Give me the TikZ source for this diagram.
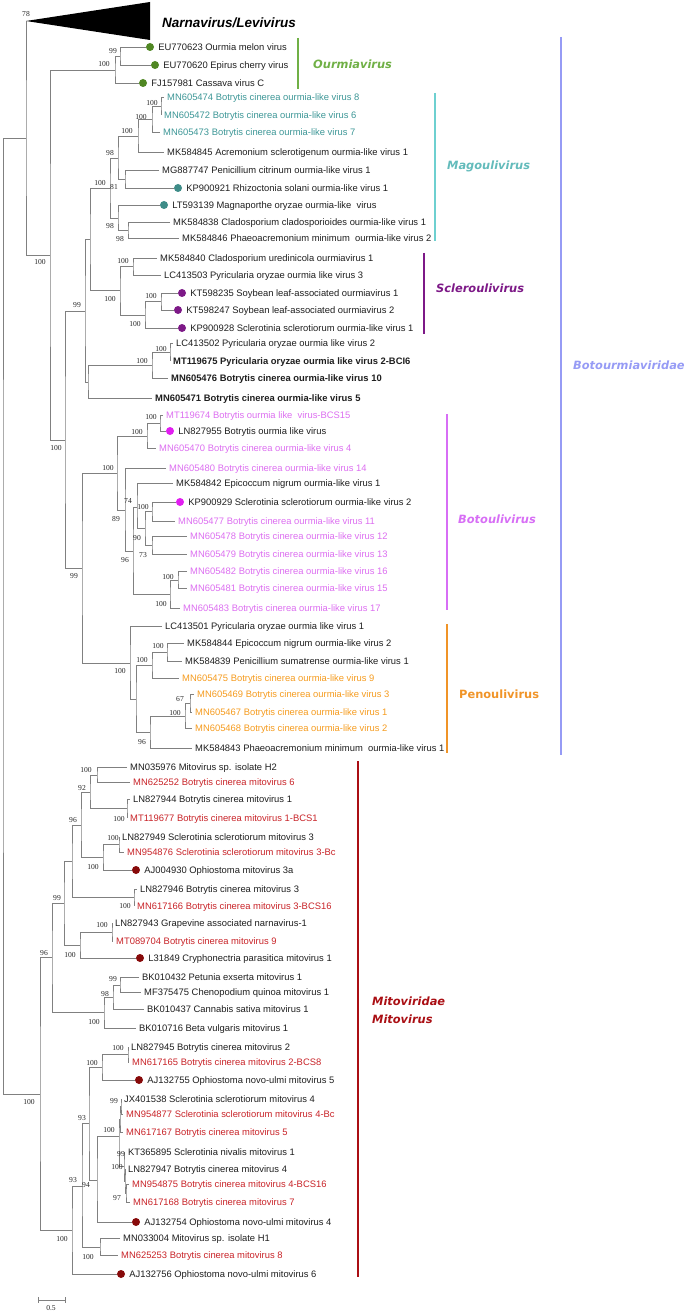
\documentclass[tikz,border=0pt]{standalone}
\usepackage{fontspec}
\setmainfont{Liberation Sans}
\newfontfamily\bootserif{Liberation Serif}
\newfontfamily\cladesans{DejaVu Sans}
\usepackage{xcolor}
\usepackage{tikz}
\usetikzlibrary{positioning}

\newcommand\leaffont{\fontsize{9.4}{11}\selectfont}
\newcommand\bootfont{\bootserif\fontsize{7.6}{9}\selectfont}
\newcommand\cladefont{\cladesans\bfseries\itshape\fontsize{11.4}{13}\selectfont}
\newcommand\narnafont{\bfseries\itshape\fontsize{13.5}{16}\selectfont}

\definecolor{branchgray}{RGB}{128,128,128}
\definecolor{leafgray}{RGB}{30,30,30}
\definecolor{bootgray}{RGB}{40,40,40}
\definecolor{ourmiadot}{RGB}{80,135,35}
\definecolor{ourmiabar}{RGB}{112,176,70}
\definecolor{magoleaf}{RGB}{60,150,150}
\definecolor{magodot}{RGB}{62,140,136}
\definecolor{magobar}{RGB}{110,208,208}
\definecolor{sclero}{RGB}{125,25,135}
\definecolor{botoleaf}{RGB}{220,110,240}
\definecolor{botodot}{RGB}{225,30,240}
\definecolor{botobar}{RGB}{215,110,245}
\definecolor{penoleaf}{RGB}{245,155,30}
\definecolor{penobar}{RGB}{240,148,40}
\definecolor{botourm}{RGB}{150,155,245}
\definecolor{mitoleaf}{RGB}{200,35,40}
\definecolor{mitodot}{RGB}{135,10,10}
\definecolor{mitobar}{RGB}{170,15,20}

\begin{document}
\begin{tikzpicture}[
        x=1pt, y=-1pt,
        branch/.style={draw=branchgray, line width=0.9pt},
        leaf/.style={anchor=west, inner xsep=3pt, inner ysep=1pt, text height=6.8pt, text depth=0pt, font=\leaffont, text=leafgray},
        tipdot/.style={circle, inner sep=0pt, minimum size=8pt},
        boot/.style={inner sep=0pt, text height=5.2pt, text depth=0pt, font=\bootfont, text=bootgray},
        cladebar/.style={line width=2.4pt},
        cladelabel/.style={anchor=west, inner sep=0pt, text height=8pt, text depth=0pt, font=\cladefont}
        ]

        \useasboundingbox (0,0) rectangle (687,1313);

        % collapsed Narnavirus/Levivirus clade
        \coordinate (narnatip) at (26,21);
        \coordinate (narnatop) at (150,2);
        \coordinate (narnabot) at (150,40);
        \fill (narnatip) -- (narnatop) -- (narnabot) -- cycle;
        \node[anchor=west, inner sep=0pt, font=\narnafont] (narna) at (162,23) {Narnavirus/Levivirus};

        % Ourmiavirus
        \node[tipdot, fill=ourmiadot] (eu770623dot) at (150,47) {};
        \node[leaf, right=1pt of eu770623dot] (eu770623) {EU770623 Ourmia melon virus};
        \node[tipdot, fill=ourmiadot] (eu770620dot) at (155,65) {};
        \node[leaf, right=1pt of eu770620dot] (eu770620) {EU770620 Epirus cherry virus};
        \node[tipdot, fill=ourmiadot] (fj157981dot) at (143,83) {};
        \node[leaf, right=1pt of fj157981dot] (fj157981) {FJ157981 Cassava virus C};

        % Magoulivirus
        \node[leaf, text=magoleaf] (mn605474) at (164,97) {MN605474 Botrytis cinerea ourmia-like virus 8};
        \node[leaf, text=magoleaf] (mn605472) at (161,115) {MN605472 Botrytis cinerea ourmia-like virus 6};
        \node[leaf, text=magoleaf] (mn605473) at (160,132) {MN605473 Botrytis cinerea ourmia-like virus 7};
        \node[leaf] (mk584845) at (164,152) {MK584845 Acremonium sclerotigenum ourmia-like virus 1};
        \node[leaf] (mg887747) at (159,170) {MG887747 Penicillium citrinum ourmia-like virus 1};
        \node[tipdot, fill=magodot] (kp900921dot) at (178,188) {};
        \node[leaf, right=1pt of kp900921dot] (kp900921) {KP900921 Rhizoctonia solani ourmia-like virus 1};
        \node[tipdot, fill=magodot] (lt593139dot) at (164,205) {};
        \node[leaf, right=1pt of lt593139dot] (lt593139) {LT593139 Magnaporthe oryzae ourmia-like\ \ virus};
        \node[leaf] (mk584838) at (170,222) {MK584838 Cladosporium cladosporioides ourmia-like virus 1};
        \node[leaf] (mk584846) at (179,238) {MK584846 Phaeoacremonium minimum\ \ ourmia-like virus 2};

        % Scleroulivirus
        \node[leaf] (mk584840) at (157,258) {MK584840 Cladosporium uredinicola ourmiavirus 1};
        \node[leaf] (lc413503) at (161,275) {LC413503 Pyricularia oryzae ourmia like virus 3};
        \node[tipdot, fill=sclero] (kt598235dot) at (182,293) {};
        \node[leaf, right=1pt of kt598235dot] (kt598235) {KT598235 Soybean leaf-associated ourmiavirus 1};
        \node[tipdot, fill=sclero] (kt598247dot) at (178,310) {};
        \node[leaf, right=1pt of kt598247dot] (kt598247) {KT598247 Soybean leaf-associated ourmiavirus 2};
        \node[tipdot, fill=sclero] (kp900928dot) at (182,328) {};
        \node[leaf, right=1pt of kp900928dot] (kp900928) {KP900928 Sclerotinia sclerotiorum ourmia-like virus 1};

        % Pyricularia / Botrytis ourmia-like group
        \node[leaf] (lc413502) at (173,343) {LC413502 Pyricularia oryzae ourmia like virus 2};
        \node[leaf, font=\leaffont\bfseries] (mt119675) at (170,361) {MT119675 Pyricularia oryzae ourmia like virus 2-BCI6};
        \node[leaf, font=\leaffont\bfseries] (mn605476) at (168,378) {MN605476 Botrytis cinerea ourmia-like virus 10};
        \node[leaf, font=\leaffont\bfseries] (mn605471) at (152,398) {MN605471 Botrytis cinerea ourmia-like virus 5};

        % Botoulivirus
        \node[leaf, text=botoleaf] (mt119674) at (163,415) {MT119674 Botrytis ourmia like\ \ virus-BCS15};
        \node[tipdot, fill=botodot] (ln827955dot) at (170,431) {};
        \node[leaf, right=1pt of ln827955dot] (ln827955) {LN827955 Botrytis ourmia like virus};
        \node[leaf, text=botoleaf] (mn605470) at (156,448) {MN605470 Botrytis cinerea ourmia-like virus 4};
        \node[leaf, text=botoleaf] (mn605480) at (166,468) {MN605480 Botrytis cinerea ourmia-like virus 14};
        \node[leaf] (mk584842) at (173,483) {MK584842 Epicoccum nigrum ourmia-like virus 1};
        \node[tipdot, fill=botodot] (kp900929dot) at (180,502) {};
        \node[leaf, right=1pt of kp900929dot] (kp900929) {KP900929 Sclerotinia sclerotiorum ourmia-like virus 2};
        \node[leaf, text=botoleaf] (mn605477) at (175,521) {MN605477 Botrytis cinerea ourmia-like virus 11};
        \node[leaf, text=botoleaf] (mn605478) at (187,536) {MN605478 Botrytis cinerea ourmia-like virus 12};
        \node[leaf, text=botoleaf] (mn605479) at (187,554) {MN605479 Botrytis cinerea ourmia-like virus 13};
        \node[leaf, text=botoleaf] (mn605482) at (187,571) {MN605482 Botrytis cinerea ourmia-like virus 16};
        \node[leaf, text=botoleaf] (mn605481) at (187,588) {MN605481 Botrytis cinerea ourmia-like virus 15};
        \node[leaf, text=botoleaf] (mn605483) at (180,608) {MN605483 Botrytis cinerea ourmia-like virus 17};

        % Penoulivirus
        \node[leaf] (lc413501) at (162,626) {LC413501 Pyricularia oryzae ourmia like virus 1};
        \node[leaf] (mk584844) at (184,643) {MK584844 Epicoccum nigrum ourmia-like virus 2};
        \node[leaf] (mk584839) at (182,661) {MK584839 Penicillium sumatrense ourmia-like virus 1};
        \node[leaf, text=penoleaf] (mn605475) at (179,678) {MN605475 Botrytis cinerea ourmia-like virus 9};
        \node[leaf, text=penoleaf] (mn605469) at (194,694) {MN605469 Botrytis cinerea ourmia-like virus 3};
        \node[leaf, text=penoleaf] (mn605467) at (192,712) {MN605467 Botrytis cinerea ourmia-like virus 1};
        \node[leaf, text=penoleaf] (mn605468) at (192,728) {MN605468 Botrytis cinerea ourmia-like virus 2};
        \node[leaf] (mk584843) at (192,748) {MK584843 Phaeoacremonium minimum\ \ ourmia-like virus 1};

        % Mitovirus
        \node[leaf] (mn035976) at (127,767) {MN035976 Mitovirus sp. isolate H2};
        \node[leaf, text=mitoleaf] (mn625252) at (130,782) {MN625252 Botrytis cinerea mitovirus 6};
        \node[leaf] (ln827944) at (130,799) {LN827944 Botrytis cinerea mitovirus 1};
        \node[leaf, text=mitoleaf] (mt119677) at (127,818) {MT119677 Botrytis cinerea mitovirus 1-BCS1};
        \node[leaf] (ln827949) at (119,837) {LN827949 Sclerotinia sclerotiorum mitovirus 3};
        \node[leaf, text=mitoleaf] (mn954876) at (124,852) {MN954876 Sclerotinia sclerotiorum mitovirus 3-Bc};
        \node[tipdot, fill=mitodot] (aj004930dot) at (136,870) {};
        \node[leaf, right=1pt of aj004930dot] (aj004930) {AJ004930 Ophiostoma mitovirus 3a};
        \node[leaf] (ln827946) at (137,889) {LN827946 Botrytis cinerea mitovirus 3};
        \node[leaf, text=mitoleaf] (mn617166) at (134,906) {MN617166 Botrytis cinerea mitovirus 3-BCS16};
        \node[leaf] (ln827943) at (112,923) {LN827943 Grapevine associated narnavirus-1};
        \node[leaf, text=mitoleaf] (mt089704) at (113,941) {MT089704 Botrytis cinerea mitovirus 9};
        \node[tipdot, fill=mitodot] (l31849dot) at (140,958) {};
        \node[leaf, right=1pt of l31849dot] (l31849) {L31849 Cryphonectria parasitica mitovirus 1};
        \node[leaf] (bk010432) at (139,977) {BK010432 Petunia exserta mitovirus 1};
        \node[leaf] (mf375475) at (141,992) {MF375475 Chenopodium quinoa mitovirus 1};
        \node[leaf] (bk010437) at (144,1009) {BK010437 Cannabis sativa mitovirus 1};
        \node[leaf] (bk010716) at (136,1028) {BK010716 Beta vulgaris mitovirus 1};
        \node[leaf] (ln827945) at (128,1047) {LN827945 Botrytis cinerea mitovirus 2};
        \node[leaf, text=mitoleaf] (mn617165) at (129,1062) {MN617165 Botrytis cinerea mitovirus 2-BCS8};
        \node[tipdot, fill=mitodot] (aj132755dot) at (139,1080) {};
        \node[leaf, right=1pt of aj132755dot] (aj132755) {AJ132755 Ophiostoma novo-ulmi mitovirus 5};
        \node[leaf] (jx401538) at (121,1099) {JX401538 Sclerotinia sclerotiorum mitovirus 4};
        \node[leaf, text=mitoleaf] (mn954877) at (123,1114) {MN954877 Sclerotinia sclerotiorum mitovirus 4-Bc};
        \node[leaf, text=mitoleaf] (mn617167) at (123,1132) {MN617167 Botrytis cinerea mitovirus 5};
        \node[leaf] (kt365895) at (125,1152) {KT365895 Sclerotinia nivalis mitovirus 1};
        \node[leaf] (ln827947) at (125,1169) {LN827947 Botrytis cinerea mitovirus 4};
        \node[leaf, text=mitoleaf] (mn954875) at (129,1184) {MN954875 Botrytis cinerea mitovirus 4-BCS16};
        \node[leaf, text=mitoleaf] (mn617168) at (130,1202) {MN617168 Botrytis cinerea mitovirus 7};
        \node[tipdot, fill=mitodot] (aj132754dot) at (136,1222) {};
        \node[leaf, right=1pt of aj132754dot] (aj132754) {AJ132754 Ophiostoma novo-ulmi mitovirus 4};
        \node[leaf] (mn033004) at (120,1238) {MN033004 Mitovirus sp. isolate H1};
        \node[leaf, text=mitoleaf] (mn625253) at (118,1255) {MN625253 Botrytis cinerea mitovirus 8};
        \node[tipdot, fill=mitodot] (aj132756dot) at (121,1274) {};
        \node[leaf, right=1pt of aj132756dot] (aj132756) {AJ132756 Ophiostoma novo-ulmi mitovirus 6};

        % internal nodes
        \coordinate (root) at (3,616);
        \coordinate (rootup) at (26,138);
        \coordinate (botourm) at (50,255);
        \coordinate (ourmia) at (115,70);
        \coordinate (ourmiasub) at (120,56);
        \coordinate (botcore) at (65,440);
        \coordinate (upper) at (85,311);
        \coordinate (magoscl) at (90,239);
        \coordinate (mago) at (110,188);
        \coordinate (magod) at (118,158);
        \coordinate (magoc) at (138,136);
        \coordinate (magob) at (152,119);
        \coordinate (magoa) at (161,106);
        \coordinate (magoe) at (125,179);
        \coordinate (magog) at (118,218);
        \coordinate (magoh) at (128,230);
        \coordinate (sclero) at (120,290);
        \coordinate (scleroa) at (133,266);
        \coordinate (sclerob) at (161,301);
        \coordinate (scleroc) at (145,315);
        \coordinate (pyric) at (88,382);
        \coordinate (pyricb) at (152,365);
        \coordinate (pyrica) at (170,352);
        \coordinate (lower) at (82,568);
        \coordinate (botoul) at (117,473);
        \coordinate (botoa) at (160,423);
        \coordinate (botob) at (147,436);
        \coordinate (botoc) at (125,510);
        \coordinate (botod) at (133,551);
        \coordinate (botoe) at (137,507);
        \coordinate (botof) at (145,528);
        \coordinate (botog) at (152,511);
        \coordinate (botoh) at (152,545);
        \coordinate (botoi) at (170,594);
        \coordinate (botoj) at (178,580);
        \coordinate (penoul) at (130,663);
        \coordinate (penof) at (136,699);
        \coordinate (penob) at (152,665);
        \coordinate (penoa) at (167,652);
        \coordinate (penoe) at (150,732);
        \coordinate (penod) at (185,716);
        \coordinate (penoc) at (190,703);
        \coordinate (mito) at (40,1094);
        \coordinate (mitoa) at (97,775);
        \coordinate (mitob) at (127,808);
        \coordinate (mitoc) at (90,792);
        \coordinate (mitod) at (119,844);
        \coordinate (mitoe) at (103,857);
        \coordinate (mitof) at (81,825);
        \coordinate (mitog) at (134,897);
        \coordinate (mitoh) at (72,861);
        \coordinate (mitoi) at (112,932);
        \coordinate (mitoj) at (80,945);
        \coordinate (mitok) at (64,903);
        \coordinate (mitol) at (120,985);
        \coordinate (mitom) at (113,997);
        \coordinate (miton) at (104,1012);
        \coordinate (mitoo) at (52,957);
        \coordinate (mitop) at (128,1054);
        \coordinate (mitoq) at (102,1067);
        \coordinate (mitor) at (121,1106);
        \coordinate (mitos) at (120,1119);
        \coordinate (mitot) at (124,1166);
        \coordinate (mitou) at (125,1181);
        \coordinate (mitov) at (126,1193);
        \coordinate (mitow) at (119,1136);
        \coordinate (mitox) at (97,1180);
        \coordinate (mitoy) at (89,1123);
        \coordinate (mitoz) at (100,1247);
        \coordinate (mitoaa) at (82,1186);
        \coordinate (mitobb) at (72,1230);

        % branches
        \draw[branch] (rootup) -| (root) |- (mito);
        \draw[branch] (narnatip) -| (rootup) |- (botourm);
        \draw[branch] (ourmia) -| (botourm) |- (botcore);
        \draw[branch] (eu770623dot.west) -| (ourmiasub) |- (eu770620dot.west);
        \draw[branch] (ourmiasub) -| (ourmia) |- (fj157981dot.west);
        \draw[branch] (upper) -| (botcore) |- (lower);
        \draw[branch] (magoscl) -| (upper) |- (pyric);
        \draw[branch] (mago) -| (magoscl) |- (sclero);
        \draw[branch] (magod) -| (mago) |- (magog);
        \draw[branch] (magoc) -| (magod) |- (magoe);
        \draw[branch] (magob) -| (magoc) |- (mk584845.west);
        \draw[branch] (magoa) -| (magob) |- (mn605473.west);
        \draw[branch] (mn605474.west) -| (magoa) |- (mn605472.west);
        \draw[branch] (mg887747.west) -| (magoe) |- (kp900921dot.west);
        \draw[branch] (lt593139dot.west) -| (magog) |- (magoh);
        \draw[branch] (mk584838.west) -| (magoh) |- (mk584846.west);
        \draw[branch] (scleroa) -| (sclero) |- (scleroc);
        \draw[branch] (mk584840.west) -| (scleroa) |- (lc413503.west);
        \draw[branch] (kt598235dot.west) -| (sclerob) |- (kt598247dot.west);
        \draw[branch] (sclerob) -| (scleroc) |- (kp900928dot.west);
        \draw[branch] (pyricb) -| (pyric) |- (mn605471.west);
        \draw[branch] (pyrica) -| (pyricb) |- (mn605476.west);
        \draw[branch] (lc413502.west) -| (pyrica) |- (mt119675.west);
        \draw[branch] (botoul) -| (lower) |- (penoul);
        \draw[branch] (botob) -| (botoul) |- (botoc);
        \draw[branch] (botoa) -| (botob) |- (mn605470.west);
        \draw[branch] (mt119674.west) -| (botoa) |- (ln827955dot.west);
        \draw[branch] (mn605480.west) -| (botoc) |- (botod);
        \draw[branch] (botoe) -| (botod) |- (botoi);
        \draw[branch] (mk584842.west) -| (botoe) |- (botof);
        \draw[branch] (botog) -| (botof) |- (botoh);
        \draw[branch] (kp900929dot.west) -| (botog) |- (mn605477.west);
        \draw[branch] (mn605478.west) -| (botoh) |- (mn605479.west);
        \draw[branch] (botoj) -| (botoi) |- (mn605483.west);
        \draw[branch] (mn605482.west) -| (botoj) |- (mn605481.west);
        \draw[branch] (lc413501.west) -| (penoul) |- (penof);
        \draw[branch] (penob) -| (penof) |- (penoe);
        \draw[branch] (penoa) -| (penob) |- (mn605475.west);
        \draw[branch] (mk584844.west) -| (penoa) |- (mk584839.west);
        \draw[branch] (penod) -| (penoe) |- (mk584843.west);
        \draw[branch] (penoc) -| (penod) |- (mn605468.west);
        \draw[branch] (mn605469.west) -| (penoc) |- (mn605467.west);
        \draw[branch] (mitoo) -| (mito) |- (mitobb);
        \draw[branch] (mitok) -| (mitoo) |- (miton);
        \draw[branch] (mitoh) -| (mitok) |- (mitoj);
        \draw[branch] (mitof) -| (mitoh) |- (mitog);
        \draw[branch] (mitoc) -| (mitof) |- (mitoe);
        \draw[branch] (mitoa) -| (mitoc) |- (mitob);
        \draw[branch] (mn035976.west) -| (mitoa) |- (mn625252.west);
        \draw[branch] (ln827944.west) -| (mitob) |- (mt119677.west);
        \draw[branch] (mitod) -| (mitoe) |- (aj004930dot.west);
        \draw[branch] (ln827949.west) -| (mitod) |- (mn954876.west);
        \draw[branch] (ln827946.west) -| (mitog) |- (mn617166.west);
        \draw[branch] (mitoi) -| (mitoj) |- (l31849dot.west);
        \draw[branch] (ln827943.west) -| (mitoi) |- (mt089704.west);
        \draw[branch] (mitom) -| (miton) |- (bk010716.west);
        \draw[branch] (mitol) -| (mitom) |- (bk010437.west);
        \draw[branch] (bk010432.west) -| (mitol) |- (mf375475.west);
        \draw[branch] (mitoaa) -| (mitobb) |- (aj132756dot.west);
        \draw[branch] (mitoy) -| (mitoaa) |- (mitoz);
        \draw[branch] (mn033004.west) -| (mitoz) |- (mn625253.west);
        \draw[branch] (mitoq) -| (mitoy) |- (mitox);
        \draw[branch] (mitop) -| (mitoq) |- (aj132755dot.west);
        \draw[branch] (ln827945.west) -| (mitop) |- (mn617165.west);
        \draw[branch] (mitow) -| (mitox) |- (aj132754dot.west);
        \draw[branch] (mitos) -| (mitow) |- (mitot);
        \draw[branch] (mitor) -| (mitos) |- (mn617167.west);
        \draw[branch] (jx401538.west) -| (mitor) |- (mn954877.west);
        \draw[branch] (kt365895.west) -| (mitot) |- (mitou);
        \draw[branch] (ln827947.west) -| (mitou) |- (mitov);
        \draw[branch] (mn954875.west) -| (mitov) |- (mn617168.west);

        % bootstrap values
        \node[boot] (bs01) at (26,14) {78};
        \node[boot] (bs02) at (113,51) {99};
        \node[boot] (bs03) at (104,64) {100};
        \node[boot] (bs04) at (152,103) {100};
        \node[boot] (bs05) at (141,117) {100};
        \node[boot] (bs06) at (127,131) {100};
        \node[boot] (bs07) at (110,153) {98};
        \node[boot] (bs08) at (100,183) {100};
        \node[boot] (bs09) at (114,187) {81};
        \node[boot] (bs10) at (110,226) {98};
        \node[boot] (bs11) at (120,239) {98};
        \node[boot] (bs12) at (40,262) {100};
        \node[boot] (bs13) at (123,261) {100};
        \node[boot] (bs14) at (77,305) {99};
        \node[boot] (bs15) at (110,299) {100};
        \node[boot] (bs16) at (151,296) {100};
        \node[boot] (bs17) at (135,324) {100};
        \node[boot] (bs18) at (161,349) {100};
        \node[boot] (bs19) at (142,361) {100};
        \node[boot] (bs20) at (151,417) {100};
        \node[boot] (bs21) at (137,432) {100};
        \node[boot] (bs22) at (56,448) {100};
        \node[boot] (bs23) at (108,468) {100};
        \node[boot] (bs24) at (128,501) {74};
        \node[boot] (bs25) at (143,507) {100};
        \node[boot] (bs26) at (116,519) {89};
        \node[boot] (bs27) at (137,538) {90};
        \node[boot] (bs28) at (143,555) {73};
        \node[boot] (bs29) at (125,560) {96};
        \node[boot] (bs30) at (168,577) {100};
        \node[boot] (bs31) at (74,576) {99};
        \node[boot] (bs32) at (161,604) {100};
        \node[boot] (bs33) at (158,646) {100};
        \node[boot] (bs34) at (142,660) {100};
        \node[boot] (bs35) at (120,671) {100};
        \node[boot] (bs36) at (180,699) {67};
        \node[boot] (bs37) at (175,713) {100};
        \node[boot] (bs38) at (142,742) {96};
        \node[boot] (bs39) at (86,770) {100};
        \node[boot] (bs40) at (82,788) {92};
        \node[boot] (bs41) at (119,819) {100};
        \node[boot] (bs42) at (73,820) {96};
        \node[boot] (bs43) at (113,838) {100};
        \node[boot] (bs44) at (93,867) {100};
        \node[boot] (bs45) at (57,898) {99};
        \node[boot] (bs46) at (125,906) {100};
        \node[boot] (bs47) at (102,925) {100};
        \node[boot] (bs48) at (44,953) {96};
        \node[boot] (bs49) at (70,955) {100};
        \node[boot] (bs50) at (113,979) {99};
        \node[boot] (bs51) at (105,994) {98};
        \node[boot] (bs52) at (94,1022) {100};
        \node[boot] (bs53) at (118,1048) {100};
        \node[boot] (bs54) at (92,1063) {100};
        \node[boot] (bs55) at (29,1102) {100};
        \node[boot] (bs56) at (114,1101) {99};
        \node[boot] (bs57) at (82,1118) {93};
        \node[boot] (bs58) at (109,1130) {100};
        \node[boot] (bs59) at (121,1154) {99};
        \node[boot] (bs60) at (117,1167) {100};
        \node[boot] (bs61) at (73,1180) {93};
        \node[boot] (bs62) at (86,1185) {94};
        \node[boot] (bs63) at (117,1198) {97};
        \node[boot] (bs64) at (62,1239) {100};
        \node[boot] (bs65) at (88,1257) {100};

        % clade bars and names
        \coordinate (ourmiabartop) at (298,38);
        \coordinate (ourmiabarbot) at (298,89);
        \coordinate (magobartop) at (435,93);
        \coordinate (magobarbot) at (435,241);
        \coordinate (sclerobartop) at (424,253);
        \coordinate (sclerobarbot) at (424,334);
        \coordinate (botobartop) at (447,414);
        \coordinate (botobarbot) at (447,610);
        \coordinate (penobartop) at (447,624);
        \coordinate (penobarbot) at (447,753);
        \coordinate (botourmbartop) at (561,37);
        \coordinate (botourmbarbot) at (561,755);
        \coordinate (mitobartop) at (358,761);
        \coordinate (mitobarbot) at (358,1277);
        \draw[cladebar, ourmiabar] (ourmiabartop) -- (ourmiabarbot);
        \draw[cladebar, magobar] (magobartop) -- (magobarbot);
        \draw[cladebar, sclero] (sclerobartop) -- (sclerobarbot);
        \draw[cladebar, botobar] (botobartop) -- (botobarbot);
        \draw[cladebar, penobar] (penobartop) -- (penobarbot);
        \draw[cladebar, botourm] (botourmbartop) -- (botourmbarbot);
        \draw[cladebar, mitobar] (mitobartop) -- (mitobarbot);

        \node[cladelabel, text=ourmiabar] (ourmialabel) at (313,65) {Ourmiavirus};
        \node[cladelabel, text=magobar!90!black] (magolabel) at (447,166) {Magoulivirus};
        \node[cladelabel, text=sclero] (sclerolabel) at (436,289) {Scleroulivirus};
        \node[cladelabel, text=botourm] (botourmlabel) at (573,365) {Botourmiaviridae};
        \node[cladelabel, text=botobar] (botolabel) at (458,519) {Botoulivirus};
        \node[cladelabel, text=penobar, font=\cladesans\bfseries\fontsize{11.4}{13}\selectfont] (penolabel) at (459,694) {Penoulivirus};
        \node[cladelabel, text=mitobar] (mitolabela) at (372,1001) {Mitoviridae};
        \node[cladelabel, text=mitobar] (mitolabelb) at (372,1019) {Mitovirus};

        % scale bar
        \coordinate (scaleleft) at (38,1300);
        \coordinate (scaleright) at (65,1300);
        \draw[branch, line width=0.7pt] (scaleleft) -- (scaleright);
        \draw[branch, line width=0.7pt] ([yshift=3pt]scaleleft) -- ([yshift=-3pt]scaleleft);
        \draw[branch, line width=0.7pt] ([yshift=3pt]scaleright) -- ([yshift=-3pt]scaleright);
        \node[boot] (scalelabel) at (51,1308) {0.5};
    \end{tikzpicture}
\end{document}
